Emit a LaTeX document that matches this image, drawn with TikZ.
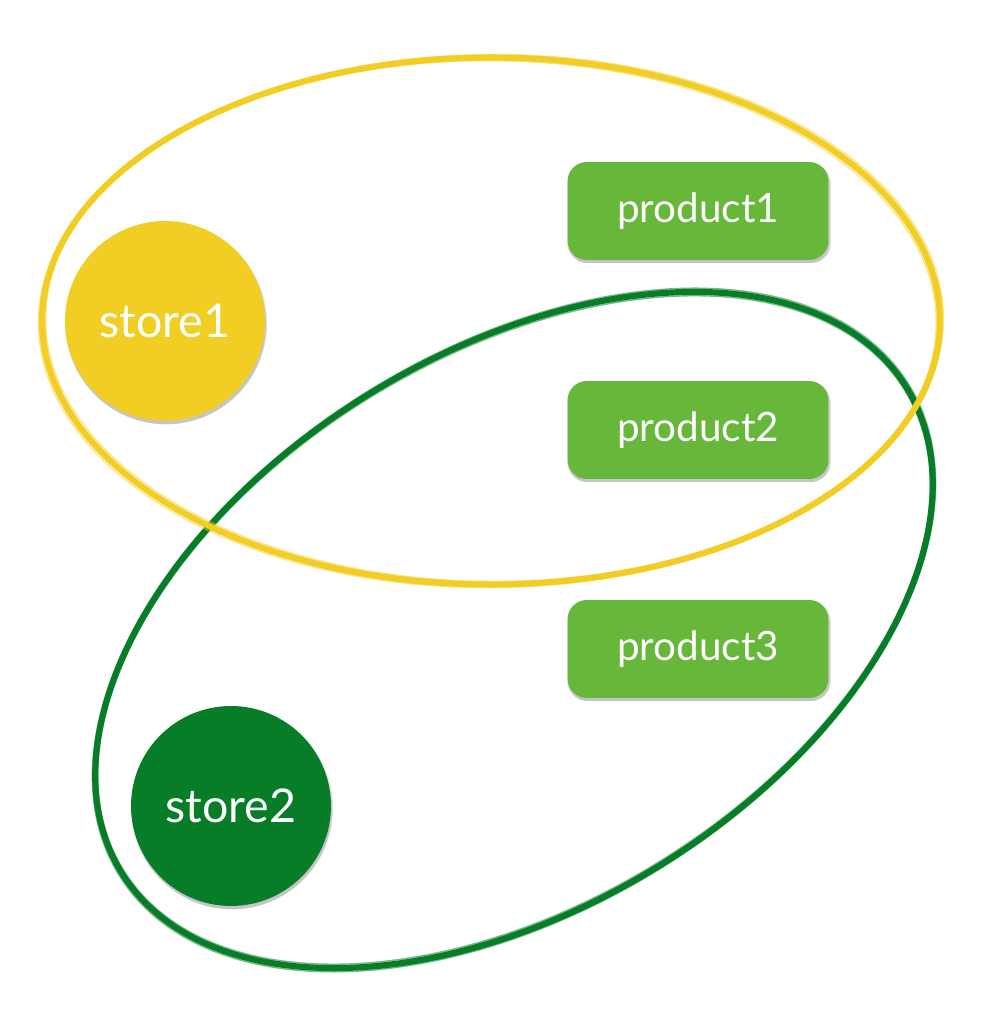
\documentclass[tikz,border=0pt]{standalone}
\usepackage{fontspec}
\setmainfont{Lato}
\usetikzlibrary{shadows}
\definecolor{ylw}{RGB}{242,205,35}
\definecolor{dkgreen}{RGB}{7,125,39}
\definecolor{prodgreen}{RGB}{102,183,58}
\tikzset{
  softshadow/.style={
    drop shadow={shadow xshift=0.6pt, shadow yshift=-1.4pt, opacity=0.12, fill=black, shadow scale=1.01},
    drop shadow={shadow xshift=0.6pt, shadow yshift=-1.8pt, opacity=0.12, fill=black}},
  storenode/.style={circle, minimum size=4cm, inner sep=0pt, text=white,
    font=\fontsize{26.5}{30}\selectfont, softshadow},
  prodnode/.style={rectangle, rounded corners=11pt, fill=prodgreen, minimum width=5.22cm,
    minimum height=1.96cm, inner sep=0pt, text=white, font=\fontsize{23}{27}\selectfont,
    softshadow},
  brush/.style={line width=3.5pt},
  brushthin/.style={line width=0.8pt, opacity=0.55}
}
\begin{document}
\begin{tikzpicture}[x=0.02cm,y=0.02cm]
\useasboundingbox (0,0) rectangle (992,1022);
\coordinate (yc) at (491,701);
\coordinate (gc) at (514,392);
% green ellipse
\draw[dkgreen, brush, rotate around={31.7:(gc)}] (gc) ellipse [x radius=9.23cm, y radius=5.54cm];
\draw[dkgreen, brushthin, rotate around={31.9:(gc)}] (gc) ellipse [x radius=9.30cm, y radius=5.60cm];
\draw[dkgreen, brushthin, rotate around={31.5:(gc)}] (gc) ellipse [x radius=9.17cm, y radius=5.47cm];
% yellow ellipse
\draw[ylw, brush] (yc) ellipse [x radius=8.98cm, y radius=5.27cm];
\draw[ylw, brushthin, rotate around={0.4:(yc)}] (yc) ellipse [x radius=9.05cm, y radius=5.33cm];
\draw[ylw, brushthin, rotate around={-0.4:(yc)}] (yc) ellipse [x radius=8.91cm, y radius=5.21cm];
% nodes
\node[storenode, fill=ylw] (s1) at (165,701) {store1};
\node[storenode, fill=dkgreen] (s2) at (231,216) {store2};
\node[prodnode] (p1) at (698,811) {product1};
\node[prodnode] (p2) at (698,592) {product2};
\node[prodnode] (p3) at (698,373) {product3};
\end{tikzpicture}
\end{document}
